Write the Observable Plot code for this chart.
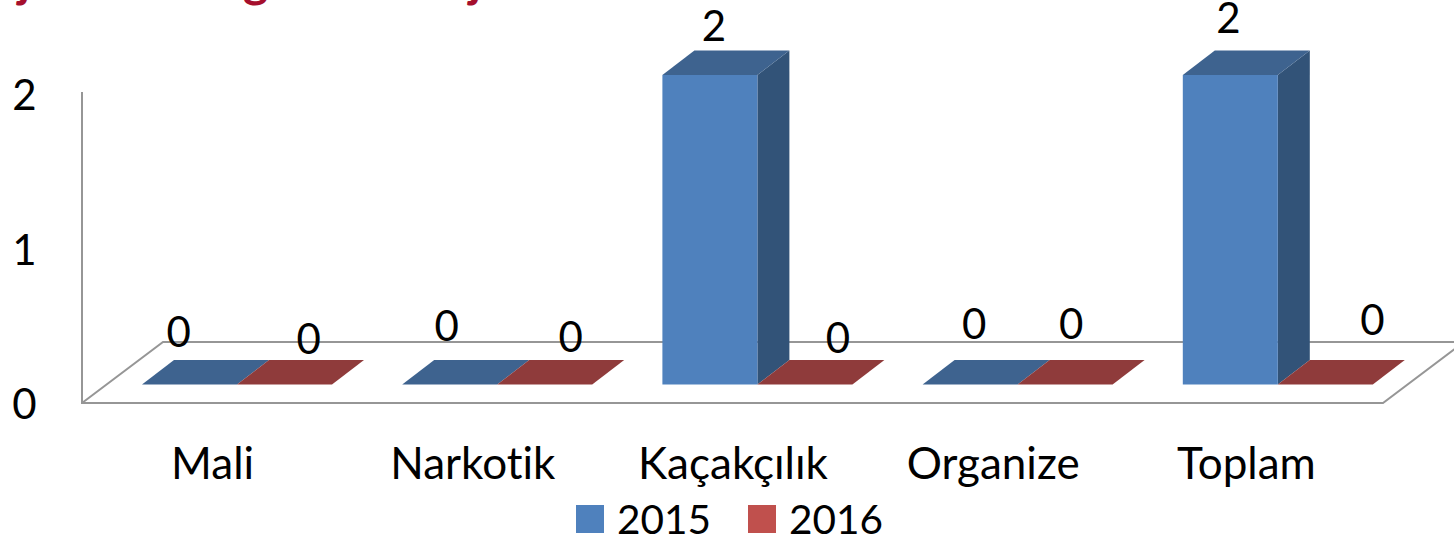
<!DOCTYPE html>
<html lang="tr">
<head>
<meta charset="utf-8">
<script src="https://cdn.jsdelivr.net/npm/d3@7"></script>
<script src="https://cdn.jsdelivr.net/npm/@observablehq/plot@0.6"></script>
<style>
  html, body { margin: 0; padding: 0; background: #fff; overflow: hidden; }
  #page { position: relative; width: 1454px; height: 543px; overflow: hidden; font-family: Lato, sans-serif; font-variant-ligatures: none; }
  #page text { font-variant-ligatures: none; }
  #cut-title span { position: absolute; top: -51px; font: 700 48px/60px Lato, sans-serif; color: #a50f2d; }
  #legend { position: absolute; left: 576px; top: 494px; display: flex; justify-content: flex-start; }
  #legend .lg-swatch { margin-right: 37px !important; }
  #legend .lg-swatch > svg { margin-right: 13px !important; }
</style>
</head>
<body>
<div id="page">
  <div id="chart"></div>
  <div id="cut-title"><span style="left:18px">j</span><span style="left:243px">g</span><span style="left:469px">j</span></div>
  <div id="legend"></div>
</div>
<script>
const categories = ["Mali", "Narkotik", "Kaçakçılık", "Organize", "Toplam"];
const years = ["2015", "2016"];
const values2015 = [0, 0, 2, 0, 2];
const values2016 = [0, 0, 0, 0, 0];

const frontColors = ["#4f81bd", "#c0504d"];
const shades = {
  "#4f81bd": {top: "#3e638f", side: "#325378"},
  "#c0504d": {top: "#8f3b3b", side: "#7a3231"}
};
// Hand-placed data labels in the original: offsets from band centre / bar top.
const labelNudges2015 = [[-34, -51], [-26, -57], [-19, -48], [-19, -59], [-25, -56]];
const labelNudges2016 = [[96, -44], [98, -46], [105, -45], [78, -59], [119, -63]];

const H = 490, W = 1454;
const depthX = 32, depthY = 24.5;
const floorX = 81, floorY = 61, floorDrop = 18.5;

const rows = y => categories.map((c, i) => ({
  category: c, year: y,
  value: (y === years[0] ? values2015 : values2016)[i]
}));

// Adds the extruded top and side faces behind every bar Plot drew.
function extrude(index, scales, values, dims, context, next) {
  const g = next(index, scales, values, dims, context);
  for (const rect of Array.from(g.querySelectorAll("rect"))) {
    const x = +rect.getAttribute("x"), y = +rect.getAttribute("y");
    const w = +rect.getAttribute("width"), h = +rect.getAttribute("height");
    const s = shades[rect.getAttribute("fill")];
    const face = (pts, fill) => {
      const p = document.createElementNS("http://www.w3.org/2000/svg", "polygon");
      p.setAttribute("points", pts.map(a => a.join(",")).join(" "));
      p.setAttribute("fill", fill);
      g.insertBefore(p, rect);
    };
    if (h > 0) face([[x + w, y], [x + w + depthX, y - depthY], [x + w + depthX, y + h - depthY], [x + w, y + h]], s.side);
    face([[x, y], [x + w, y], [x + w + depthX, y - depthY], [x + depthX, y - depthY]], s.top);
  }
  return g;
}

// Walls and floor outline, derived from the scales.
function frame(index, scales, values, dims) {
  const x0 = dims.marginLeft, x1 = dims.width - dims.marginRight;
  const yb = scales.y(0) + floorDrop, yt = scales.y(2) + floorDrop - 1.5;
  const path = d3.path();
  path.moveTo(x0, yt); path.lineTo(x0, yb); path.lineTo(x1, yb);
  path.lineTo(x1 + floorX, yb - floorY);
  path.moveTo(x0, yb); path.lineTo(x0 + floorX, yb - floorY); path.lineTo(W + 5, yb - floorY);
  const el = document.createElementNS("http://www.w3.org/2000/svg", "path");
  el.setAttribute("d", path.toString());
  el.setAttribute("fill", "none");
  el.setAttribute("stroke", "#969696");
  el.setAttribute("stroke-width", 2);
  return el;
}

const barMark = (y, insetLeft, insetRight) => Plot.barY(rows(y), {
  x: "category", y1: 0, y2: "value", fill: "year",
  insetLeft, insetRight, render: extrude
});

const labelMarks = (y, nudges) => rows(y).map((d, i) => Plot.text([d], {
  x: "category", y: "value", text: d => String(d.value),
  dx: nudges[i][0], dy: nudges[i][1],
  fontSize: 42, fill: "#000", textAnchor: "middle", lineAnchor: "middle"
}));

const chart = Plot.plot({
  width: W, height: H,
  marginLeft: 82, marginRight: 71, marginTop: 0, marginBottom: H - 384.5,
  style: {fontFamily: "Lato, sans-serif", fontSize: "42px", color: "#000", background: "transparent", overflow: "visible"},
  x: {domain: categories, padding: 0, round: false, label: null},
  y: {domain: [0, 2], range: [384.5, 75], label: null},
  color: {domain: years, range: frontColors},
  marks: [
    frame,
    Plot.axisY({ticks: [0, 1, 2], tickFormat: d3.format("d"), tickSize: 0, tickPadding: 46, dy: 21, fontSize: 42, label: null, fill: "#000"}),
    Plot.axisX(categories.slice(0, 4), {tickSize: 0, tickPadding: 63, fontSize: 44, label: null, fill: "#000"}),
    Plot.axisX(categories.slice(4), {tickSize: 0, tickPadding: 63, dx: -7, fontSize: 44, label: null, fill: "#000"}),
    barMark(years[0], 60, 105.2),
    barMark(years[1], 155, 10.2),
    ...labelMarks(years[0], labelNudges2015),
    ...labelMarks(years[1], labelNudges2016)
  ]
});
document.getElementById("chart").append(chart);
document.getElementById("legend").append(chart.legend("color", {
  swatchSize: 28,
  className: "lg",
  style: {fontFamily: "Lato, sans-serif", fontSize: "40.5px", color: "#000"}
}));
</script>
</body>
</html>
